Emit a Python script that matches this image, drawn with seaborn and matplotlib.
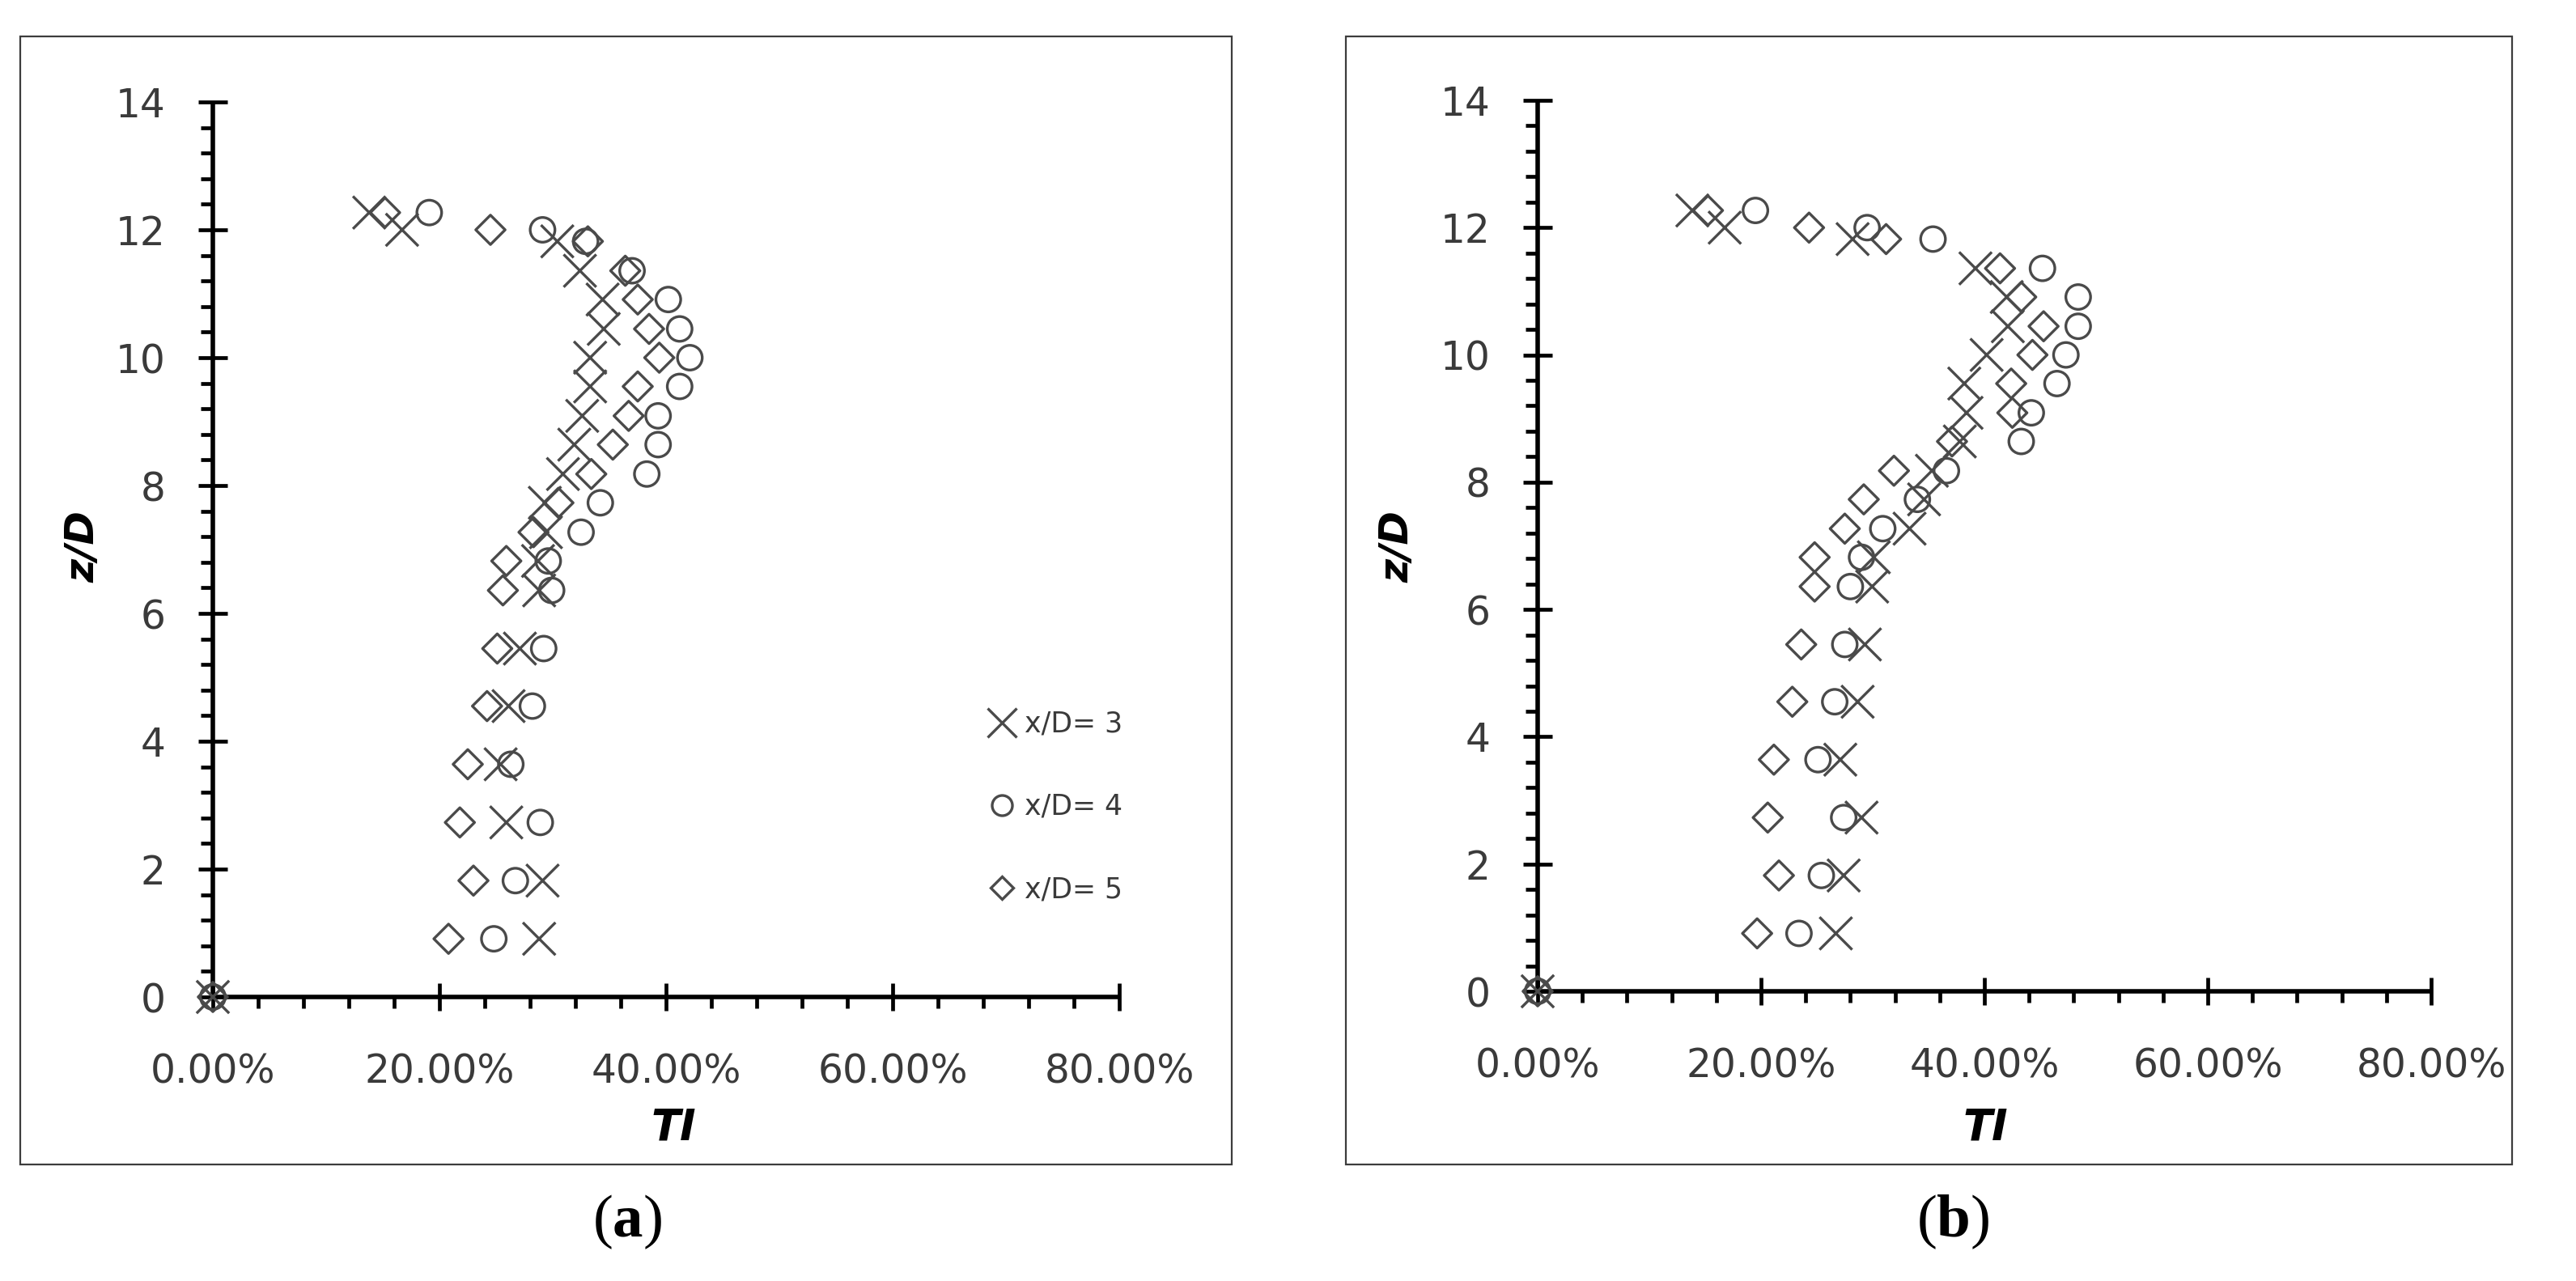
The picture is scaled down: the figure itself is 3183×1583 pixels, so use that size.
import numpy as np
import pandas as pd
import matplotlib
matplotlib.use("Agg")
import matplotlib.pyplot as plt
import seaborn as sns
from matplotlib.ticker import MultipleLocator, PercentFormatter
from matplotlib.lines import Line2D
from matplotlib.patches import Rectangle

# ---------------- data (TI in %, z/D levels) ----------------
z_levels = [0, 0.91, 1.82, 2.73, 3.64, 4.55, 5.45, 6.36, 6.82, 7.27, 7.73,
            8.18, 8.64, 9.09, 9.55, 10.0, 10.45, 10.91, 11.36, 11.82, 12.0, 12.27]
series_names = ["x/D= 3", "x/D= 4", "x/D= 5"]

ti_a_xd3 = [0, 28.8, 29.1, 25.9, 25.4, 26.1, 27.1, 28.8, 28.7, 29.4, 29.3,
            30.9, 31.9, 32.6, 33.3, 33.3, 34.5, 34.4, 32.4, 30.4, 16.7, 13.8]
ti_a_xd4 = [0, 24.8, 26.7, 28.9, 26.3, 28.2, 29.2, 29.9, 29.6, 32.5, 34.2,
            38.3, 39.3, 39.3, 41.2, 42.1, 41.2, 40.2, 37.0, 32.9, 29.1, 19.1]
ti_a_xd5 = [0, 20.8, 23.0, 21.8, 22.5, 24.2, 25.1, 25.6, 25.9, 28.3, 30.5,
            33.4, 35.3, 36.7, 37.5, 39.4, 38.5, 37.5, 36.4, 33.1, 24.5, 15.2]

ti_b_xd3 = [0, 26.7, 27.4, 29.0, 27.1, 28.65, 29.3, 29.95, 30.1, 33.3, 34.6,
            35.3, 37.8, 38.4, 38.2, 40.2, 42.1, 42.0, 39.2, 28.2, 16.75, 13.85]
ti_b_xd4 = [0, 23.4, 25.4, 27.4, 25.1, 26.6, 27.5, 28.0, 29.0, 30.9, 34.0,
            36.6, 43.3, 44.2, 46.5, 47.3, 48.4, 48.4, 45.2, 35.4, 29.5, 19.5]
ti_b_xd5 = [0, 19.65, 21.6, 20.6, 21.15, 22.8, 23.6, 24.8, 24.8, 27.5, 29.2,
            31.9, 37.1, 42.5, 42.4, 44.3, 45.3, 43.3, 41.4, 31.2, 24.3, 15.25]

panel_labels = ["a", "b"]


def make_df(a, b, c):
    rows = []
    for name, vals in zip(series_names, [a, b, c]):
        for z, t in zip(z_levels, vals):
            rows.append({"TI": t / 100.0, "zD": z, "series": name})
    return pd.DataFrame(rows)


df_a = make_df(ti_a_xd3, ti_a_xd4, ti_a_xd5)
df_b = make_df(ti_b_xd3, ti_b_xd4, ti_b_xd5)

# ---------------- style ----------------
sns.set_style("white")
plt.rcParams["font.family"] = ["DejaVu Sans"]
plt.rcParams["mathtext.fontset"] = "custom"
plt.rcParams["mathtext.rm"] = "Liberation Serif"
plt.rcParams["mathtext.bf"] = "Liberation Serif:bold"

mk_color = "#4a4a4a"
txt_color = "#3a3a3a"
markers = {"x/D= 3": "x", "x/D= 4": "o", "x/D= 5": "D"}
sizes = {"x/D= 3": 29 ** 2, "x/D= 4": 22 ** 2, "x/D= 5": 18.5 ** 2}

fig = plt.figure(figsize=(31.83, 15.83), dpi=100)
ax_a = fig.add_axes([0.08263, 0.22173, 0.35187, 0.69867])
ax_b = fig.add_axes([0.59692, 0.22615, 0.34684, 0.69551])


def draw(ax, df, tipos, zpos):
    for name in series_names:
        sub = df[df["series"] == name]
        sns.scatterplot(data=sub, x="TI", y="zD", marker=markers[name],
                        s=sizes[name], color=mk_color, ax=ax, legend=False,
                        clip_on=False, zorder=3)
    for coll in ax.collections:
        coll.set_facecolor("none")
        coll.set_edgecolor(mk_color)
        coll.set_linewidth(2.4)
        coll.set_clip_on(False)
    ax.set_xlim(0, 0.8)
    ax.set_ylim(0, 14)
    ax.xaxis.set_major_locator(MultipleLocator(0.2))
    ax.xaxis.set_minor_locator(MultipleLocator(0.04))
    ax.yaxis.set_major_locator(MultipleLocator(2))
    ax.yaxis.set_minor_locator(MultipleLocator(0.4))
    ax.xaxis.set_major_formatter(PercentFormatter(xmax=1, decimals=2))
    for s in ["top", "right"]:
        ax.spines[s].set_visible(False)
    for s in ["left", "bottom"]:
        ax.spines[s].set_linewidth(4.0)
        ax.spines[s].set_color("black")
        ax.spines[s].set_capstyle("butt")
    ax.tick_params(axis="x", which="major", direction="inout", length=24,
                   width=3.4, pad=37, labelsize=35, labelcolor=txt_color,
                   bottom=True, color="black")
    ax.tick_params(axis="x", which="minor", direction="out", length=10,
                   width=3.4, bottom=True, color="black")
    ax.tick_params(axis="y", which="major", direction="inout", length=26,
                   width=3.4, pad=29, labelsize=35, labelcolor=txt_color,
                   left=True, color="black")
    ax.tick_params(axis="y", which="minor", direction="out", length=11,
                   width=3.4, left=True, color="black")
    ax.set_xlabel("TI", fontsize=38, fontweight="bold", fontstyle="italic",
                  color="black", va="center")
    ax.set_ylabel("z/D", fontsize=36, fontweight="bold", fontstyle="italic",
                  color="black", va="center")
    ax.xaxis.set_label_coords(*tipos)
    ax.yaxis.set_label_coords(*zpos)
    ax.set_facecolor("none")


draw(ax_a, df_a, (0.508, -0.1456), (-0.1438, 0.5027))
draw(ax_b, df_b, (0.5009, -0.1526), (-0.1576, 0.4986))

# legend (panel a)
handles = [Line2D([], [], ls="none", marker="x", ms=26, mec=mk_color, mew=2.4),
           Line2D([], [], ls="none", marker="o", ms=18, mfc="none", mec=mk_color, mew=2.4),
           Line2D([], [], ls="none", marker="D", ms=14, mfc="none", mec=mk_color, mew=2.4)]
leg = ax_a.legend(handles, series_names, loc="center left",
                  bbox_to_anchor=(0.8554, 0.2125), frameon=False, fontsize=25,
                  handlelength=1.0, handletextpad=0.3, labelspacing=1.96,
                  borderpad=0, borderaxespad=0)
for t in leg.get_texts():
    t.set_color(txt_color)

# panel borders
for x0, w in [(0.00801, 0.47016), (0.52234, 0.45284)]:
    fig.patches.append(Rectangle((x0, 0.09097), w, 0.88035, transform=fig.transFigure,
                                 fill=False, ec="#3c3c3c", lw=1.6))

# panel captions
for xc, lab in [(0.2435, panel_labels[0]), (0.7581, panel_labels[1])]:
    fig.text(xc, 0.0461, "($\\mathbf{" + lab + "}$)", ha="center", va="center",
             fontsize=54, family="Liberation Serif", color="black")

fig.savefig("out.png", dpi=100, facecolor="white")
